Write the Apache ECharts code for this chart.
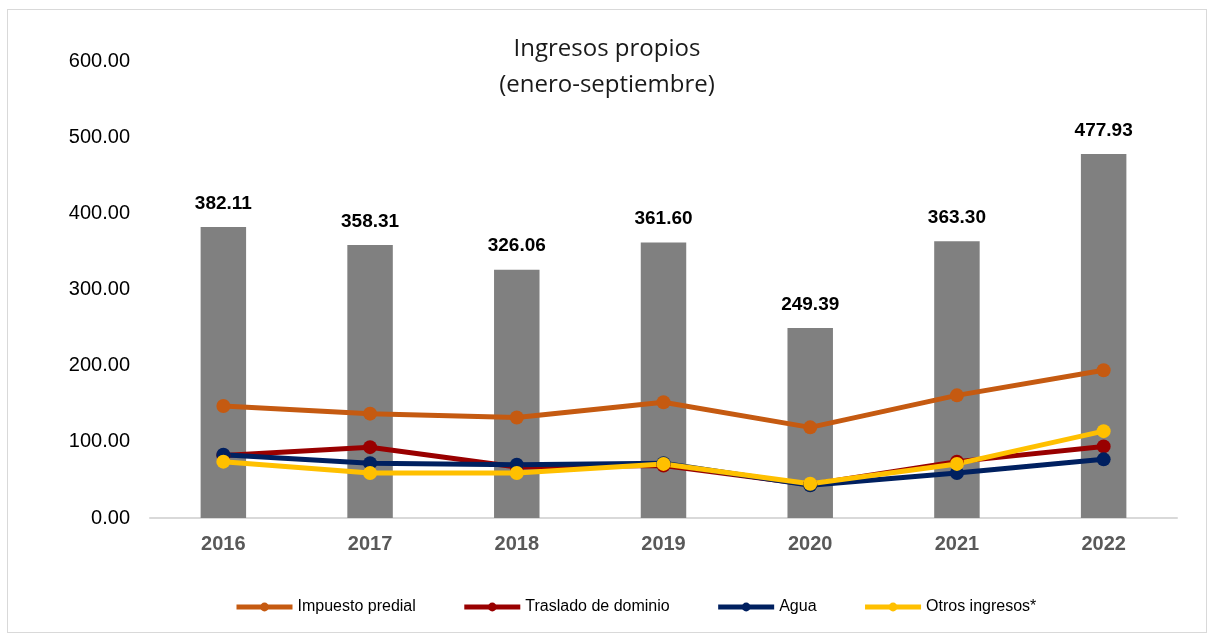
<!DOCTYPE html>
<html>
<head>
<meta charset="utf-8">
<script src="https://cdn.jsdelivr.net/npm/echarts@6/dist/echarts.min.js"></script>
<style>
  html, body { margin: 0; padding: 0; background: #fff; }
  #frame { position: absolute; left: 7px; top: 9px; width: 1200px; height: 624px; border: 1px solid #d9d9d9; box-sizing: border-box; }
  #chart { position: absolute; left: 0; top: 0; width: 1214px; height: 641px; }
</style>
</head>
<body>
<div id="frame"></div>
<div id="chart"></div>
<script>
// datos
const years = ['2016', '2017', '2018', '2019', '2020', '2021', '2022'];
const totales = [382.11, 358.31, 326.06, 361.60, 249.39, 363.30, 477.93];
const impuestoPredial = [147, 137, 132, 152, 119, 161, 194];
const trasladoDominio = [82, 93, 67, 69, 44, 74, 94];
const agua = [83, 72, 70, 72, 43, 59, 77];
const otrosIngresos = [74, 59, 59, 71, 45, 71, 114];

const myChart = echarts.init(document.getElementById('chart'));

function linea(name, data, color) {
    return {
        name: name,
        type: 'line',
        data: data,
        symbol: 'circle',
        symbolSize: 14,
        lineStyle: { color: color, width: 5 },
        itemStyle: { color: color },
        z: 3
    };
}

const option = {
    animation: false,
    title: {
        text: 'Ingresos propios\n(enero-septiembre)',
        left: 'center',
        top: 26,
        padding: [5, 0, 5, 10],
        textStyle: {
            fontFamily: 'Open Sans',
            fontWeight: 'normal',
            fontSize: 24,
            lineHeight: 36,
            color: '#1a1a1a'
        }
    },
    legend: {
        bottom: 21,
        left: 229,
        itemGap: 46,
        itemWidth: 56,
        itemHeight: 11,
        lineStyle: { width: 5 },
        textStyle: { fontFamily: 'Liberation Sans', fontSize: 16, color: '#000' },
        data: ['Impuesto predial', 'Traslado de dominio', 'Agua', 'Otros ingresos*']
    },
    grid: { left: 150, right: 37, top: 61, bottom: 123 },
    xAxis: {
        type: 'category',
        data: years,
        axisLine: { lineStyle: { color: '#d9d9d9', width: 2 } },
        axisTick: { show: false },
        axisLabel: {
            fontFamily: 'Liberation Sans',
            fontSize: 20,
            fontWeight: 'bold',
            color: '#595959',
            margin: 16
        }
    },
    yAxis: {
        type: 'value',
        min: 0,
        max: 600,
        interval: 100,
        splitLine: { show: false },
        axisLine: { show: false },
        axisTick: { show: false },
        axisLabel: {
            fontFamily: 'Liberation Sans',
            fontSize: 20,
            color: '#000',
            margin: 20,
            formatter: v => v.toFixed(2)
        }
    },
    series: [
        {
            name: 'Total',
            type: 'bar',
            data: totales,
            barWidth: '31%',
            itemStyle: { color: '#808080' },
            label: {
                show: true,
                position: 'top',
                distance: 14,
                fontFamily: 'Liberation Sans',
                fontSize: 19,
                fontWeight: 'bold',
                color: '#000',
                formatter: p => p.value.toFixed(2)
            },
            z: 1
        },
        linea('Impuesto predial', impuestoPredial, '#C55A11'),
        linea('Traslado de dominio', trasladoDominio, '#990000'),
        linea('Agua', agua, '#002060'),
        linea('Otros ingresos*', otrosIngresos, '#FFC000')
    ]
};

myChart.setOption(option);
</script>
</body>
</html>
